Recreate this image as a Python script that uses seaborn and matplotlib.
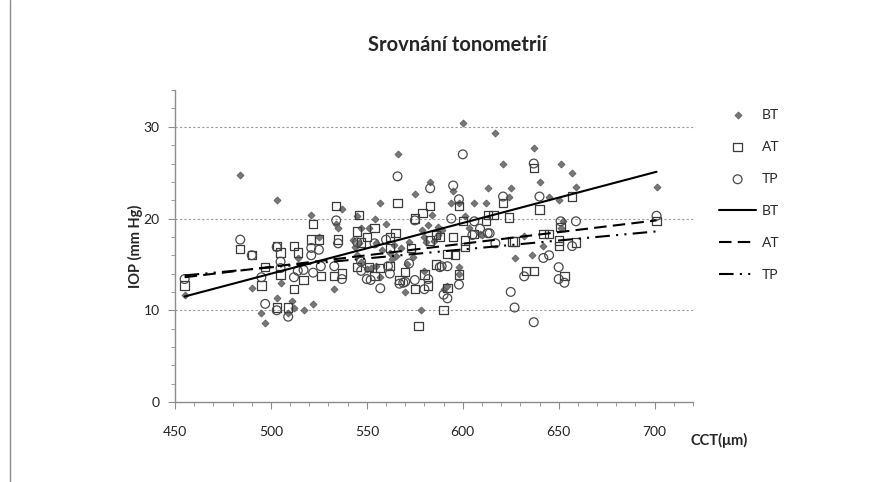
import seaborn as sns
import matplotlib.pyplot as plt
from matplotlib.ticker import MultipleLocator
from matplotlib.lines import Line2D

sns.set_style("white")
plt.rcParams['font.family'] = ['Lato', 'DejaVu Sans']

# BT (diamonds)
bt_cct = [455, 484, 490, 495, 497, 503, 503, 505, 509, 511, 512, 514, 517, 521, 522,
          525, 533, 534, 535, 537, 543, 544, 545, 545, 546, 547, 547, 550, 551, 552,
          554, 555, 555, 557, 557, 558, 560, 562, 563, 564, 565, 566, 568, 570, 571,
          572, 574, 575, 578, 579, 580, 580, 581, 582, 583, 584, 585, 587, 587, 589,
          590, 592, 594, 595, 598, 598, 598, 600, 601, 603, 606, 609, 610, 612, 613,
          617, 621, 624, 625, 627, 632, 636, 637, 640, 642, 645, 650, 651, 651, 652,
          657, 659, 701]
bt_iop = [11.7, 24.7, 12.4, 9.7, 8.6, 22.0, 11.3, 13.0, 9.7, 11.0, 10.3, 15.7, 10.0, 20.4, 10.7,
          18.0, 12.3, 19.4, 19.0, 21.0, 17.7, 16.9, 20.3, 16.0, 17.3, 19.0, 15.3, 14.5, 19.0, 14.6,
          20.0, 17.3, 14.8, 21.7, 13.6, 16.6, 19.4, 16.2, 15.6, 17.1, 15.9, 27.0, 16.8, 12.0, 15.0,
          17.4, 15.8, 22.7, 10.0, 18.8, 18.0, 14.3, 17.4, 19.3, 24.0, 20.4, 17.6, 19.1, 18.2, 18.8,
          12.3, 12.6, 21.7, 23.0, 21.7, 14.7, 14.0, 30.4, 20.3, 19.0, 21.7, 18.3, 18.2, 21.7, 23.3,
          29.3, 26.0, 22.3, 23.3, 15.7, 18.1, 16.0, 27.7, 24.0, 17.0, 22.3, 22.0, 26.0, 19.0, 19.7,
          25.0, 23.4, 23.4]

# AT (squares)
at_cct = [455, 484, 490, 495, 497, 503, 505, 505, 503, 509, 512, 512, 514, 517, 521,
          522, 525, 526, 533, 534, 535, 537, 545, 546, 545, 547, 550, 551, 554, 554,
          557, 562, 562, 562, 565, 566, 567, 570, 573, 575, 575, 577, 579, 580, 582,
          583, 583, 586, 586, 588, 590, 592, 592, 595, 596, 598, 598, 600, 601, 601,
          606, 612, 613, 616, 621, 624, 626, 627, 633, 637, 637, 640, 642, 645, 650,
          650, 651, 653, 657, 659, 701]
at_iop = [12.7, 16.7, 16.0, 12.7, 14.7, 17.0, 16.3, 13.9, 10.3, 10.3, 17.0, 12.3, 16.3, 13.3, 17.7,
          19.4, 17.7, 13.7, 13.7, 21.4, 17.7, 14.0, 18.6, 20.4, 14.7, 17.4, 18.0, 14.7, 19.0, 13.7,
          14.6, 18.0, 16.8, 14.8, 18.4, 21.7, 13.3, 14.2, 16.8, 20.0, 12.3, 8.3, 20.6, 13.9, 12.7,
          21.4, 17.6, 15.0, 18.2, 18.0, 10.0, 16.1, 12.4, 18.0, 16.0, 21.4, 13.9, 19.7, 16.9, 17.6,
          18.3, 19.7, 20.4, 20.4, 21.7, 20.1, 17.5, 17.5, 14.3, 14.3, 25.5, 21.0, 18.3, 18.3, 17.6,
          17.0, 19.1, 13.7, 22.4, 17.4, 19.7]

# TP (circles)
tp_cct = [455, 484, 490, 495, 497, 503, 503, 505, 505, 509, 512, 514, 517, 521, 521,
          522, 525, 526, 533, 534, 535, 537, 545, 547, 547, 550, 552, 554, 557, 560,
          561, 562, 566, 567, 569, 570, 572, 575, 575, 580, 582, 583, 588, 589, 590,
          592, 592, 594, 595, 598, 598, 600, 605, 606, 609, 613, 614, 617, 621, 625,
          627, 632, 637, 637, 640, 642, 645, 650, 650, 651, 653, 657, 659, 701]
tp_iop = [13.4, 17.7, 16.0, 13.6, 10.7, 16.9, 10.0, 15.3, 14.6, 9.3, 13.6, 14.3, 14.4, 16.8, 16.0,
          14.1, 16.6, 14.8, 14.8, 19.8, 17.3, 13.4, 17.4, 14.3, 15.3, 13.4, 13.3, 17.3, 12.4, 17.7,
          14.8, 14.0, 24.6, 12.9, 13.0, 13.1, 15.1, 13.3, 19.8, 12.3, 13.4, 23.3, 14.7, 14.8, 11.7,
          14.8, 11.3, 20.0, 23.6, 22.1, 12.8, 27.0, 18.2, 19.7, 18.9, 18.4, 18.4, 17.3, 22.4, 12.0,
          10.3, 13.7, 26.0, 8.7, 22.4, 15.7, 16.0, 14.7, 13.4, 19.7, 13.0, 17.0, 19.7, 20.3]

# linear trends (end points)
trend_cct = [455, 701]
bt_trend = [11.5, 25.1]
at_trend = [13.6, 19.8]
tp_trend = [13.8, 18.6]


def main():
    fig = plt.figure(figsize=(8.93, 4.82), dpi=100)
    ax = fig.add_axes([0.196, 0.166, 0.580, 0.647])

    sns.scatterplot(x=bt_cct, y=bt_iop, marker='D', s=13, color='#777777',
                    edgecolor='#555555', linewidth=0.5, label='BT', ax=ax, zorder=3)
    sns.scatterplot(x=at_cct, y=at_iop, marker='s', s=36, facecolor='none',
                    edgecolor='#3a3a3a', linewidth=0.9, label='AT', ax=ax, zorder=3)
    sns.scatterplot(x=tp_cct, y=tp_iop, marker='o', s=40, facecolor='none',
                    edgecolor='#4a4a4a', linewidth=0.9, label='TP', ax=ax, zorder=3)

    sns.lineplot(x=trend_cct, y=bt_trend, color='black', lw=1.5, label='BT', ax=ax, zorder=4)
    sns.lineplot(x=trend_cct, y=at_trend, color='black', lw=1.5, label='AT', ax=ax, zorder=4,
                 dashes=False, linestyle=(0, (6, 3)))
    sns.lineplot(x=trend_cct, y=tp_trend, color='black', lw=1.5, label='TP', ax=ax, zorder=4,
                 linestyle=(0, (7, 3, 1, 3, 1, 3)))

    ax.set_xlim(450, 720)
    ax.set_ylim(0, 34)
    ax.xaxis.set_major_locator(MultipleLocator(50))
    ax.xaxis.set_minor_locator(MultipleLocator(10))
    ax.yaxis.set_major_locator(MultipleLocator(10))
    ax.yaxis.set_minor_locator(MultipleLocator(2))
    ax.tick_params(axis='both', which='both', direction='out', color='#8c8c8c',
                   left=True, bottom=True)
    ax.tick_params(axis='both', which='major', length=5, labelsize=10, labelcolor='#222222')
    ax.tick_params(axis='both', which='minor', length=3)
    ax.tick_params(axis='x', pad=12)
    ax.tick_params(axis='y', pad=6)

    for sp in ['top', 'right']:
        ax.spines[sp].set_visible(False)
    for sp in ['left', 'bottom']:
        ax.spines[sp].set_color('#8c8c8c')
        ax.spines[sp].set_linewidth(1)

    ax.grid(False)
    for yv in [10, 20, 30]:
        ax.axhline(yv, color='#9a9a9a', ls=(0, (2, 2)), lw=0.8, zorder=1)

    ax.set_ylabel('IOP (mm Hg)', fontsize=10.5, fontweight='bold')
    ax.yaxis.set_label_coords(-0.062, 0.5)
    ax.set_xlabel('CCT(μm)', fontsize=10.5, fontweight='bold', ha='left', va='center')
    ax.xaxis.set_label_coords(0.996, -0.122)

    fig.text(0.512, 0.907, 'Srovnání tonometrií', ha='center', va='center',
             fontsize=14.5, fontweight='bold')

    ax.legend(loc='upper left', bbox_to_anchor=(0.791, 0.80),
              bbox_transform=fig.transFigure, frameon=False, fontsize=10,
              labelspacing=1.44, handlelength=2.7, handletextpad=0.4,
              scatterpoints=1)

    fig.add_artist(Line2D([0.011, 0.011], [0, 1], color='#8c8c8c', lw=1,
                          transform=fig.transFigure))

    fig.savefig('out.png', dpi=100)


if __name__ == "__main__":
    main()
